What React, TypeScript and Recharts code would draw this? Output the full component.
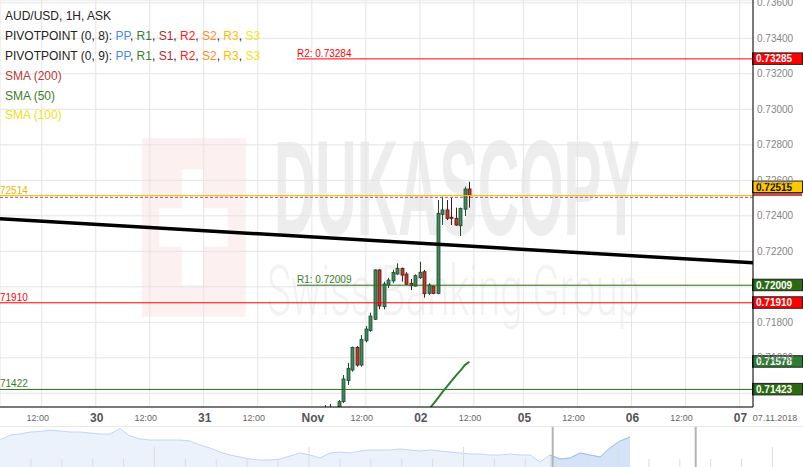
import React from "react";
import {
  ComposedChart,
  Bar,
  Line,
  Area,
  XAxis,
  YAxis,
  CartesianGrid,
  ReferenceLine,
} from "recharts";

const FONT = 'Arial, "Liberation Sans", sans-serif';

// Hour axis: trading hours counted from Mon 29 Oct 00:00, weekend removed
const hourDomain: [number, number] = [2.73, 170];
const hourTicks = [12, 24, 36, 48, 60, 72, 84, 96, 108, 119, 131, 143, 155, 167];
const hourTickLabels = ["12:00", "30", "12:00", "31", "12:00", "Nov", "12:00", "02", "12:00", "05", "12:00", "06", "12:00", "07"];
const lastDate = "07.11.2018";

const priceDomain: [number, number] = [0.713228, 0.736158];
const priceTicks = [0.714, 0.716, 0.718, 0.72, 0.722, 0.724, 0.726, 0.728, 0.73, 0.732, 0.734, 0.736];
// tick labels hidden behind the price boxes
const coveredTicks = [0.714, 0.72];

// Hourly AUD/USD candles, the first one is Nov 1 03:00
const firstCandleHour = 75;
const opens = [0.7125, 0.7131, 0.7128, 0.7131, 0.71353, 0.71471, 0.71531, 0.71659, 0.71559, 0.71696, 0.71753, 0.71817, 0.72095, 0.71888, 0.7201, 0.72033, 0.72072, 0.72104, 0.72072, 0.7202, 0.72004, 0.72051, 0.72085, 0.71963, 0.72004, 0.71963, 0.72408, 0.72433, 0.72392, 0.72386, 0.72344, 0.72437, 0.72551];
const highs = [0.71334, 0.7134, 0.7132, 0.71362, 0.71503, 0.71571, 0.71663, 0.71666, 0.71728, 0.71779, 0.71854, 0.72099, 0.72099, 0.72029, 0.7205, 0.72097, 0.72132, 0.72108, 0.72082, 0.72044, 0.7207, 0.72141, 0.72095, 0.7202, 0.72006, 0.72489, 0.72508, 0.72489, 0.72502, 0.72446, 0.72446, 0.72564, 0.72592];
const lows = [0.7122, 0.7125, 0.7126, 0.7129, 0.71345, 0.71447, 0.71522, 0.7155, 0.7155, 0.71687, 0.71747, 0.71813, 0.71873, 0.71873, 0.71993, 0.72021, 0.72066, 0.72029, 0.7201, 0.71982, 0.72001, 0.72044, 0.71939, 0.71954, 0.71958, 0.71958, 0.72348, 0.72376, 0.72348, 0.72344, 0.72286, 0.72399, 0.72446];
const closes = [0.7131, 0.7128, 0.7131, 0.71353, 0.71481, 0.71541, 0.71659, 0.71559, 0.71704, 0.71762, 0.71835, 0.72095, 0.71892, 0.72016, 0.72038, 0.72081, 0.72104, 0.72066, 0.72014, 0.72006, 0.72063, 0.72082, 0.71961, 0.7201, 0.71963, 0.72414, 0.72433, 0.72386, 0.72386, 0.72348, 0.72442, 0.72551, 0.72515];

// SMA(50), visible part only
const sma50Start = 98;
const sma50 = [0.7131, 0.7134, 0.71373, 0.71407, 0.71438, 0.71469, 0.715, 0.71528, 0.71559, 0.71578];

// long-term trend line end points
const trendHours = [2.73, 170];
const trendPrices = [0.72384, 0.72135];

// pivot / price levels
const pivotFromHour = 68.7;
const r2Price = 0.73284;
const r1Price = 0.72009;
const askPrice = 0.72514;
const bidPrice = 0.72504;
const s1Price = 0.7191;
const supportPrice = 0.71422;

// overview strip below the chart
const overviewLevels = [27, 32, 33, 35, 35.5, 37, 36, 35, 35, 34, 33, 33, 38.5, 31, 28, 27, 27, 27, 27, 26, 22, 19, 15, 12, 10, 8, 7, 7, 8, 11, 14, 12, 9, 14, 15, 14, 16, 17, 17, 17, 18, 17, 16, 17, 16, 15, 14, 13, 13, 12, 12, 13, 12, 12, 5, 12, 8, 9, 14, 12, 10, 19, 26, 30];
const overviewWindow = [55, 69.3];

const pivotKeys = ["PP", "R1", "S1", "R2", "S2", "R3", "S3"];
const pivotColors = ["#3f8ce6", "#3b7d2b", "#b3282d", "#ff2020", "#ff8a1a", "#ffbf00", "#f2e61a"];

const fmt = (v: number) => v.toFixed(5);

function HourTick(props: any) {
  const { x, y, payload } = props;
  const label = hourTickLabels[hourTicks.indexOf(payload.value)];
  if (label === "12:00") {
    return (
      <text x={x - 4} y={y + 13.7} textAnchor="middle" fontSize={9} fill="#666" fontFamily={FONT}>
        {label}
      </text>
    );
  }
  return (
    <text x={x + 1} y={y + 14.7} textAnchor="middle" fontSize={12} fontWeight="bold" fill="#555" fontFamily={FONT}>
      {label}
    </text>
  );
}

function PriceTick(props: any) {
  const { x, y, payload } = props;
  if (coveredTicks.some((v) => Math.abs(v - payload.value) < 1e-9)) return null;
  return (
    <text x={x} y={y} dy="0.355em" textAnchor="start" fontSize={10} fill="#858585" fontFamily={FONT}>
      {fmt(payload.value)}
    </text>
  );
}

function Candle(props: any) {
  const { x, y, width, height, payload } = props;
  if (!payload || !isFinite(y) || !isFinite(height)) return null;
  const { open, close, high, low } = payload;
  const top = Math.min(y, y + height);
  const h = Math.abs(height);
  const cx = Math.floor(x + width / 2) + 0.5;
  const py = (p: number) => top + ((high - p) / (high - low)) * h;
  const up = close >= open;
  const edge = up ? "#1f4a2d" : "#4e1a12";
  const bodyTop = py(Math.max(open, close));
  const bodyBottom = py(Math.min(open, close));
  return (
    <g>
      <line x1={cx} x2={cx} y1={top} y2={top + h} stroke={edge} strokeWidth={1} />
      <rect
        x={cx - 1.5}
        y={bodyTop}
        width={3}
        height={Math.max(1, bodyBottom - bodyTop)}
        fill={up ? "#3c8b5b" : "#c23a2b"}
        stroke={edge}
        strokeWidth={0.8}
      />
    </g>
  );
}

// left tag above the line + coloured price box on the axis
function levelLabel(opts: {
  tag?: string;
  tagColor?: string;
  tagDx?: number;
  badge: string;
  fill: string;
  text?: string;
  shift?: number;
  strip?: string;
}) {
  return (props: any) => {
    const vb = props.viewBox;
    if (!vb) return null;
    const right = vb.x + vb.width;
    const y = vb.y;
    const shift = opts.shift ?? 0;
    return (
      <g fontFamily={FONT}>
        {opts.tag && (
          <text x={vb.x + (opts.tagDx ?? 0)} y={y - 2} fontSize={10} fill={opts.tagColor}>
            {opts.tag}
          </text>
        )}
        {opts.strip && <rect x={right} y={y - 3} width={49} height={3.5} fill={opts.strip} />}
        <rect x={right - 0.5} y={y - 6 + shift} width={50} height={11.5} fill={opts.fill} stroke="#222" strokeWidth={1} />
        <text x={right + 3} y={y + 3.6 + shift} fontSize={10} fontWeight="bold" fill={opts.text ?? "#fff"}>
          {opts.badge}
        </text>
      </g>
    );
  };
}

function Watermark() {
  return (
    <svg width={803} height={467} style={{ position: "absolute", left: 0, top: 0 }}>
      <rect x={141.7} y={138.3} width={104} height={178.4} fill="#fdf0f0" />
      <rect x={181.7} y={169.3} width={21.6} height={116} fill="#fff" />
      <rect x={159.3} y={208.3} width={68.4} height={38.4} fill="#fff" />
      <text
        x={274}
        y={235}
        fontSize={135}
        fontWeight="bold"
        fill="#ededed"
        fontFamily={FONT}
        textLength={366}
        lengthAdjust="spacingAndGlyphs"
      >
        DUKASCOPY
      </text>
      <text
        x={267}
        y={315}
        fontSize={70}
        fontWeight={300}
        fill="#f2f2f2"
        fontFamily="Roboto, Lato, sans-serif"
        textLength={373}
        lengthAdjust="spacingAndGlyphs"
      >
        Swiss Banking Group
      </text>
    </svg>
  );
}

function LegendOverlay() {
  return (
    <svg width={803} height={467} style={{ position: "absolute", left: 0, top: 0, pointerEvents: "none" }} fontFamily={FONT}>
      <text x={5} y={20} fontSize={12} fill="#222">AUD/USD, 1H, ASK</text>
      {[8, 9].map((period, r) => (
        <text key={period} x={5} y={40 + r * 20} fontSize={12} fill="#222">
          {`PIVOTPOINT (0, ${period}): `}
          {pivotKeys.map((k, j) => (
            <React.Fragment key={k}>
              <tspan fill={pivotColors[j]}>{k}</tspan>
              {j < pivotKeys.length - 1 ? <tspan fill="#222">{", "}</tspan> : null}
            </React.Fragment>
          ))}
        </text>
      ))}
      <text x={5} y={80} fontSize={12} fill="#b83a3a">SMA (200)</text>
      <text x={5} y={100} fontSize={12} fill="#3b7d2b">SMA (50)</text>
      <text x={5} y={119} fontSize={12} fill="#f0e020">SMA (100)</text>
      <text x={775} y={421} textAnchor="middle" fontSize={9} fill="#666">{lastDate}</text>
    </svg>
  );
}

export default function App() {
  const data = opens.map((open, i) => {
    const t = firstCandleHour + i;
    const k = t - sma50Start;
    return {
      t,
      open,
      high: highs[i],
      low: lows[i],
      close: closes[i],
      range: [lows[i], highs[i]],
      sma: k >= 0 && k < sma50.length ? sma50[k] : null,
    };
  });
  const navData = overviewLevels.map((level, i) => ({
    i,
    level,
    sel: i >= overviewWindow[0] ? level : null,
  }));
  const navTicks = Array.from({ length: 26 }, (_, k) => (k + 1) * 3.09);
  const lastClose = closes[closes.length - 1];
  const smaLast = sma50[sma50.length - 1];

  return (
    <div style={{ position: "relative", width: 803, height: 467, overflow: "hidden", background: "#fff" }}>
      <style>{"body{margin:0}"}</style>
      <Watermark />
      <div style={{ position: "absolute", left: 0, top: 0 }}>
        <ComposedChart width={803} height={467} data={data} margin={{ top: 0, right: 0, bottom: 40, left: 0 }}>
          <CartesianGrid stroke="#e4e4e4" />
          <XAxis
            dataKey="t"
            type="number"
            domain={hourDomain}
            ticks={hourTicks}
            interval={0}
            allowDataOverflow
            height={20}
            tickLine={false}
            tickSize={0}
            tickMargin={0}
            axisLine={{ stroke: "#000" }}
            tick={<HourTick />}
          />
          <YAxis
            orientation="right"
            type="number"
            domain={priceDomain}
            ticks={priceTicks}
            interval={0}
            allowDataOverflow
            width={50}
            tickLine={false}
            tickSize={0}
            tickMargin={4}
            axisLine={{ stroke: "#000" }}
            tick={<PriceTick />}
          />
          <ReferenceLine
            segment={[{ x: trendHours[0], y: trendPrices[0] }, { x: trendHours[1], y: trendPrices[1] }]}
            stroke="#000"
            strokeWidth={3.5}
            ifOverflow="hidden"
          />
          <ReferenceLine
            segment={[{ x: pivotFromHour, y: r2Price }, { x: hourDomain[1], y: r2Price }]}
            stroke="#ff0000"
            label={levelLabel({ tag: `R2: ${fmt(r2Price)}`, tagColor: "#ff0000", badge: fmt(r2Price + 0.00001), fill: "#ff0000" })}
          />
          <ReferenceLine y={bidPrice} stroke="#c0504d" strokeDasharray="3 2" />
          <ReferenceLine
            y={askPrice}
            stroke="#f5c000"
            label={levelLabel({
              tag: fmt(askPrice),
              tagColor: "#f0b400",
              tagDx: -8.4,
              badge: fmt(lastClose),
              fill: "#ffc800",
              text: "#111",
              shift: -8.5,
              strip: "#c0504d",
            })}
          />
          <ReferenceLine
            segment={[{ x: pivotFromHour, y: r1Price }, { x: hourDomain[1], y: r1Price }]}
            stroke="#2b6a12"
            label={levelLabel({ tag: `R1: ${fmt(r1Price)}`, tagColor: "#3b7d2b", badge: fmt(r1Price), fill: "#2b6a12" })}
          />
          <ReferenceLine
            y={s1Price}
            stroke="#ff0000"
            label={levelLabel({ tag: fmt(s1Price), tagColor: "#ff0000", tagDx: -8.4, badge: fmt(s1Price), fill: "#ff0000" })}
          />
          <ReferenceLine
            y={smaLast}
            stroke="none"
            label={levelLabel({ badge: fmt(smaLast), fill: "#2f7d32" })}
          />
          <ReferenceLine
            y={supportPrice}
            stroke="#2b6a12"
            label={levelLabel({ tag: fmt(supportPrice), tagColor: "#3b7d2b", tagDx: -8.4, badge: fmt(supportPrice + 0.00001), fill: "#2b6a12" })}
          />
          <Line
            dataKey="sma"
            stroke="#2f7d2f"
            strokeWidth={2}
            dot={false}
            connectNulls={false}
            isAnimationActive={false}
          />
          <Bar dataKey="range" barSize={3} shape={Candle} isAnimationActive={false} />
        </ComposedChart>
      </div>
      <div style={{ position: "absolute", left: 0, top: 426, width: 803, borderTop: "1px solid #e8e8e8" }} />
      <div style={{ position: "absolute", left: 0, top: 427 }}>
        <ComposedChart width={803} height={40} data={navData} margin={{ top: 0, right: 0, bottom: 0, left: 0 }}>
          <XAxis dataKey="i" type="number" domain={[0, 80.3]} hide />
          <YAxis type="number" domain={[0, 40]} hide />
          <Area dataKey="level" stroke="#c2d6f2" fill="#ebf2fc" fillOpacity={1} strokeWidth={1} isAnimationActive={false} />
          <Area dataKey="sel" stroke="#9fbeea" fill="#d5e3f8" fillOpacity={1} strokeWidth={1} isAnimationActive={false} />
          {navTicks.map((p, k) => (
            <ReferenceLine
              key={k}
              segment={[{ x: p, y: 0 }, { x: p, y: (k + 1) % 5 === 0 ? 20 : 8 }]}
              stroke="#dcdcdc"
            />
          ))}
          {overviewWindow.map((p) => (
            <ReferenceLine key={p} segment={[{ x: p + 0.27, y: 0 }, { x: p + 0.27, y: 40 }]} stroke="#b3b3b3" strokeWidth={2} />
          ))}
        </ComposedChart>
      </div>
      <LegendOverlay />
    </div>
  );
}
